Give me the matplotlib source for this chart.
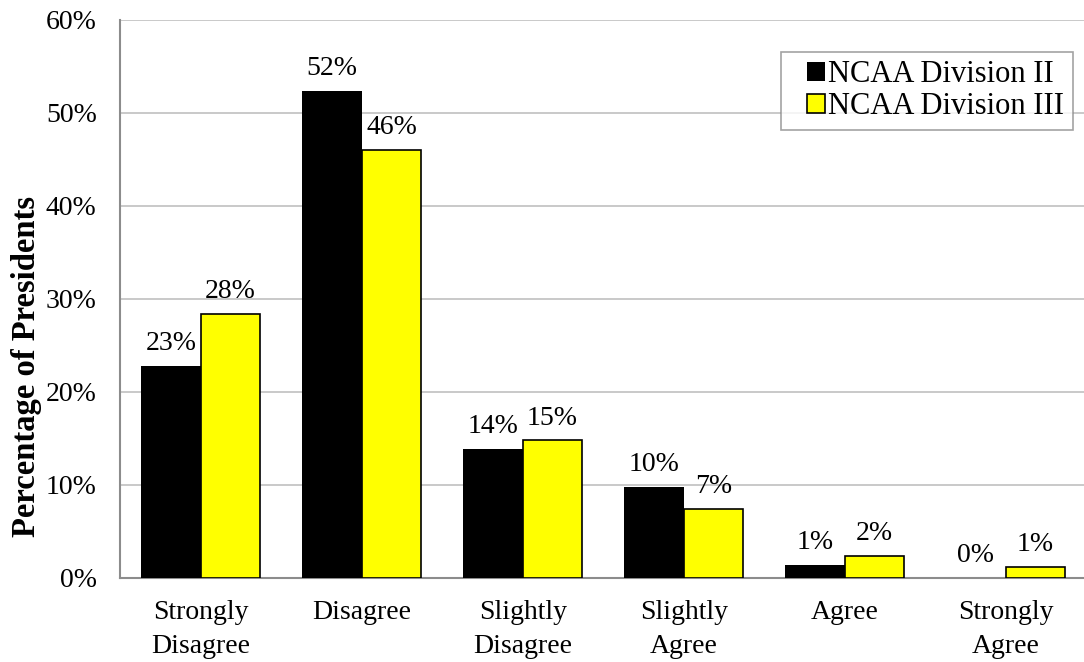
import numpy as np
import matplotlib.pyplot as plt
from matplotlib.patches import Rectangle
from matplotlib.container import BarContainer
from matplotlib.legend_handler import HandlerPatch, update_from_first_child

# survey responses by division (% of presidents)
categories = ["Strongly\nDisagree", "Disagree", "Slightly\nDisagree",
              "Slightly\nAgree", "Agree", "Strongly\nAgree"]
div2 = [22.8, 52.4, 13.9, 9.8, 1.4, 0.0]
div3 = [28.4, 46.0, 14.8, 7.4, 2.4, 1.2]

plt.rcParams['font.family'] = ['Liberation Serif', 'DejaVu Serif']


def right_square(legend, orig_handle, xdescent, ydescent, width, height, fontsize):
    # small square key pushed to the right edge of the handle box
    return Rectangle((width - height - xdescent, -ydescent), height, height)


fig = plt.figure(figsize=(10.84, 6.62), dpi=100)
ax = fig.add_axes([0.111, 0.127, 0.891, 0.843])

x = np.arange(len(categories))
w = 0.37
b2 = ax.bar(x - w / 2, div2, w, color='black', label='NCAA Division II', zorder=3)
b3 = ax.bar(x + w / 2, div3, w, color='#ffff00', edgecolor='black', linewidth=1.2,
            label='NCAA Division III', zorder=3)

for bars, vals in ((b2, div2), (b3, div3)):
    for bar, v in zip(bars, vals):
        ax.annotate(f"{v:.0f}%", (bar.get_x() + bar.get_width() / 2, v),
                    xytext=(0, 7), textcoords='offset points',
                    ha='center', va='bottom', fontsize=20)

ax.set_xlim(-0.5, len(categories) - 0.5)
ax.set_ylim(0, 60)
ax.set_yticks(range(0, 61, 10))
ax.set_yticklabels([f"{t}%" for t in range(0, 61, 10)])
ax.set_xticks(x)
ax.set_xticklabels(categories, linespacing=1.48)
ax.tick_params(length=0, labelsize=20, colors='black')
ax.tick_params(axis='y', pad=17)
ax.tick_params(axis='x', pad=16)
ax.yaxis.grid(True, color='#c0c0c0', linewidth=1.2, zorder=0)
ax.set_axisbelow(True)
for side in ('top', 'right'):
    ax.spines[side].set_visible(False)
for side in ('left', 'bottom'):
    ax.spines[side].set_color('#8c8c8c')
    ax.spines[side].set_linewidth(1.5)

ax.set_ylabel("Percentage of Presidents", fontsize=23.5, fontweight='bold')
ax.yaxis.set_label_coords(-0.081, 0.378)

key = HandlerPatch(patch_func=right_square, update_func=update_from_first_child)
leg = ax.legend(loc='upper right', bbox_to_anchor=(0.986, 0.943), borderaxespad=0,
                fontsize=22, frameon=True, fancybox=False,
                handlelength=1.15, handleheight=0.55,
                handler_map={BarContainer: key},
                handletextpad=0.1, borderpad=0.28, labelspacing=0.1)
leg.get_frame().set_edgecolor('#8c8c8c')
leg.get_frame().set_linewidth(1.2)

fig.savefig("out.png", dpi=100)
